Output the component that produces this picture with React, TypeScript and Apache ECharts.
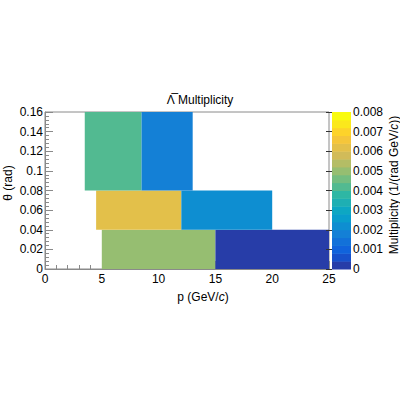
import React, { useEffect, useRef } from "react";
import * as echarts from "echarts";

// bins: p range, theta range, multiplicity
const pLow = [5, 15, 4.5, 12, 3.5, 8.5];
const pHigh = [15, 25, 12, 20, 8.5, 13];
const thLow = [0, 0, 0.04, 0.04, 0.08, 0.08];
const thHigh = [0.04, 0.04, 0.08, 0.08, 0.16, 0.16];
const mult = [0.005, 0.0002, 0.0062, 0.0022, 0.0042, 0.0018];

const zMin = 0;
const zMax = 0.008;
const nLevels = 20;
const xTicks = [0, 5, 10, 15, 20, 25];
const yTicks = [0, 0.02, 0.04, 0.06, 0.08, 0.1, 0.12, 0.14, 0.16];
const zTicks = [0, 0.001, 0.002, 0.003, 0.004, 0.005, 0.006, 0.007, 0.008];

// ROOT kBird palette stops
const stops = [0, 0.125, 0.25, 0.375, 0.5, 0.625, 0.75, 0.875, 1];
const red = [0.2082, 0.0592, 0.078, 0.0232, 0.1802, 0.5301, 0.8186, 0.9956, 0.9764];
const green = [0.1664, 0.3599, 0.5041, 0.6419, 0.7178, 0.7492, 0.7328, 0.7862, 0.9832];
const blue = [0.5293, 0.8684, 0.8385, 0.7914, 0.6425, 0.4662, 0.3499, 0.1968, 0.0539];

function palette(t: number): string {
  t = Math.max(0, Math.min(1, t));
  let i = 0;
  while (i < stops.length - 2 && t > stops[i + 1]) i++;
  const f = (t - stops[i]) / (stops[i + 1] - stops[i]);
  const c = (a: number[]) => Math.round(255 * (a[i] + (a[i + 1] - a[i]) * f));
  return `rgb(${c(red)},${c(green)},${c(blue)})`;
}

function levelColor(level: number): string {
  const idx = Math.floor(((level + 0.99) * 255) / nLevels);
  return palette(idx / 254);
}

function valueColor(v: number): string {
  const level = Math.min(nLevels - 1, Math.floor(0.01 + ((v - zMin) * nLevels) / (zMax - zMin)));
  return levelColor(level);
}

const FONT = "Liberation Sans";

export default function App() {
  const ref = useRef<HTMLDivElement>(null);
  useEffect(() => {
    if (!ref.current) return;
    const chart = echarts.init(ref.current, undefined, { renderer: "svg" });
    const binData = pLow.map((p, i) => [p, pHigh[i], thLow[i], thHigh[i], mult[i]]);
    const step = (zMax - zMin) / nLevels;
    const barData = Array.from({ length: nLevels }, (_, i) => [0, 1, zMin + i * step, zMin + (i + 1) * step, i]);
    const axisGray = "#8a8a8a";
    chart.setOption({
      animation: false,
      textStyle: { fontFamily: FONT },
      grid: [
        { left: 45, top: 112, width: 284, height: 157, show: true, borderColor: axisGray, borderWidth: 1 },
        { left: 332, top: 112, width: 19, height: 157 },
      ],
      xAxis: [
        {
          gridIndex: 0, type: "value", min: 0, max: 25, interval: 5,
          axisLine: { show: true, lineStyle: { color: axisGray } },
          axisTick: { show: true, inside: true, length: 8, lineStyle: { color: axisGray } },
          minorTick: { show: true, splitNumber: 5, length: 4, lineStyle: { color: axisGray } },
          splitLine: { show: false },
          axisLabel: { color: "#000", fontSize: 12, margin: 4, fontFamily: FONT,
            formatter: (v: number) => (xTicks.includes(v) ? String(v) : "") },
        },
        {
          gridIndex: 1, type: "value", min: 0, max: 1, show: false,
        },
      ],
      yAxis: [
        {
          gridIndex: 0, type: "value", min: 0, max: 0.16, interval: 0.02,
          axisLine: { show: true, lineStyle: { color: axisGray } },
          axisTick: { show: true, inside: true, length: 8, lineStyle: { color: axisGray } },
          minorTick: { show: true, splitNumber: 5, length: 4, lineStyle: { color: axisGray } },
          splitLine: { show: false },
          axisLabel: { color: "#000", fontSize: 12, margin: 2, fontFamily: FONT,
            formatter: (v: number) => {
              const t = yTicks.find((y) => Math.abs(y - v) < 1e-9);
              return t === undefined ? "" : String(t);
            } },
        },
        {
          gridIndex: 1, type: "value", min: zMin, max: zMax, interval: 0.001, position: "right",
          axisLine: { show: false },
          axisTick: { show: true, inside: true, length: 6, lineStyle: { color: "#333" } },
          splitLine: { show: false },
          axisLabel: { color: "#000", fontSize: 12, margin: 2, fontFamily: FONT,
            formatter: (v: number) => {
              const t = zTicks.find((z) => Math.abs(z - v) < 1e-9);
              return t === undefined ? "" : String(t);
            } },
          z: 10,
        },
      ],
      series: [
        {
          type: "custom", xAxisIndex: 0, yAxisIndex: 0, data: binData,
          encode: { x: [0, 1], y: [2, 3] },
          renderItem: (params: any, api: any) => {
            const a = api.coord([api.value(0), api.value(3)]);
            const b = api.coord([api.value(1), api.value(2)]);
            return {
              type: "rect",
              shape: { x: a[0], y: a[1], width: b[0] - a[0], height: b[1] - a[1] },
              style: { fill: valueColor(api.value(4)) },
            };
          },
          z: 1,
        },
        {
          type: "custom", xAxisIndex: 1, yAxisIndex: 1, data: barData,
          encode: { x: [0, 1], y: [2, 3] },
          renderItem: (params: any, api: any) => {
            const a = api.coord([api.value(0), api.value(3)]);
            const b = api.coord([api.value(1), api.value(2)]);
            return {
              type: "rect",
              shape: { x: a[0], y: a[1], width: b[0] - a[0], height: b[1] - a[1] + 0.5 },
              style: { fill: levelColor(api.value(4)) },
            };
          },
          z: 1,
        },
      ],
      graphic: [
        { type: "text", x: 200, y: 100, style: { text: "\u039B\u0305 Multiplicity", font: `12px ${FONT}`, fill: "#000", textAlign: "center", textVerticalAlign: "middle" } },
        { type: "text", x: 8, y: 183, rotation: Math.PI / 2, style: { text: "\u03B8 (rad)", font: `12px ${FONT}`, fill: "#000", textAlign: "center", textVerticalAlign: "middle" } },
        { type: "text", x: 203, y: 297, style: {
          rich: { n: { fontSize: 12, fontFamily: FONT }, i: { fontSize: 12, fontFamily: FONT, fontStyle: "italic" } },
          text: "{n|p (GeV/}{i|c}{n|)}", fill: "#000", textAlign: "center", textVerticalAlign: "middle" } },
        { type: "text", x: 394, y: 185, rotation: Math.PI / 2, style: {
          rich: { n: { fontSize: 12, fontFamily: FONT }, i: { fontSize: 12, fontFamily: FONT, fontStyle: "italic" } },
          text: "{n|Multiplicity (1/(rad GeV/}{i|c}{n|))}", fill: "#000", textAlign: "center", textVerticalAlign: "middle" } },
      ],
    });
    return () => chart.dispose();
  }, []);
  return <div ref={ref} style={{ width: 400, height: 400, position: "absolute", left: 0, top: 0 }} />;
}
